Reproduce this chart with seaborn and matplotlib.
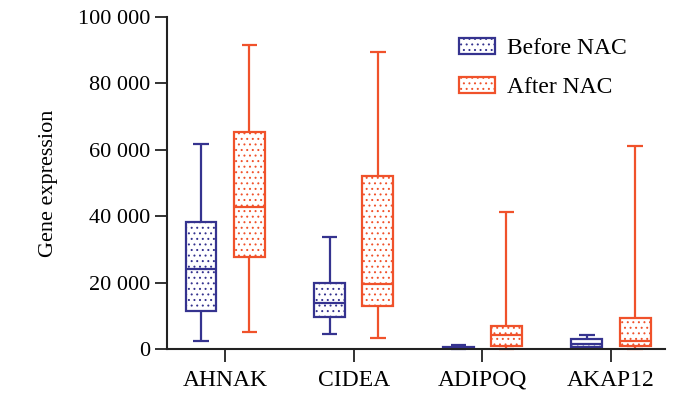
import pandas as pd
import numpy as np
import matplotlib
matplotlib.use("Agg")
import matplotlib.pyplot as plt
import matplotlib.patches as mpatches
from matplotlib.ticker import FuncFormatter
import seaborn as sns

genes = ["AHNAK", "CIDEA", "ADIPOQ", "AKAP12"]
groups = ["Before NAC", "After NAC"]

# five-number summaries: min, q1, median, q3, max
before_min = [2400, 4600, 0, 300]
before_q1 = [11400, 9500, 150, 600]
before_med = [24000, 13900, 400, 1500]
before_q3 = [38300, 20000, 700, 2900]
before_max = [61700, 33800, 1200, 4200]

after_min = [5100, 3400, 0, 0]
after_q1 = [27800, 13000, 1000, 1000]
after_med = [42800, 19600, 4200, 2500]
after_q3 = [65500, 52100, 7000, 9200]
after_max = [91700, 89400, 41200, 61200]

colors = ["#35338f", "#f0522b"]

## build long table, 5 points per box -> quartiles land exactly on them
rows = []
stats = {"Before NAC": [before_min, before_q1, before_med, before_q3, before_max],
         "After NAC": [after_min, after_q1, after_med, after_q3, after_max]}
for grp in groups:
    for i, g in enumerate(genes):
        for s in stats[grp]:
            rows.append({"gene": g, "group": grp, "value": s[i]})
df = pd.DataFrame(rows)

plt.rcParams['font.family'] = ['Liberation Serif', 'DejaVu Serif']
plt.rcParams['hatch.linewidth'] = 0.7
fig = plt.figure(figsize=(7, 3.97), dpi=100)
ax = fig.add_axes([0.239, 0.121, 0.711, 0.836])

sns.boxplot(data=df, x="gene", y="value", hue="group", order=genes, hue_order=groups,
            palette=colors, fill=True, saturation=1, whis=(0, 100), width=0.75, gap=0.36,
            linewidth=1.6, ax=ax, legend=False)

# white boxes with coloured outline + dotted hatch, lines take the box colour
boxes = []
for p in ax.patches:
    fc = p.get_facecolor()
    ext = p.get_path().transformed(p.get_patch_transform()).get_extents()
    boxes.append((ext.x0, ext.x1, fc))
    p.set_facecolor("white")
    p.set_edgecolor(fc)
    p.set_hatch("...")
    p.set_linewidth(1.6)
for l in ax.lines:
    xm = np.mean(l.get_xdata())
    for x0, x1, fc in boxes:
        if x0 - 1e-6 <= xm <= x1 + 1e-6:
            l.set_color(fc)
    l.set_clip_on(False)
    l.set_solid_capstyle("butt")

ax.set_ylim(0, 100000)
ax.set_xlim(-0.45, 3.42)
ax.set_yticks(np.arange(0, 100001, 20000))
ax.yaxis.set_major_formatter(FuncFormatter(lambda v, pos: f"{int(v):,}".replace(",", " ")))
ax.set_xlabel("")
ax.set_ylabel("Gene expression", fontsize=16, labelpad=14)
ax.tick_params(axis="both", length=9, width=1.3, labelsize=16, color="#222222")
ax.tick_params(axis="x", labelsize=17, pad=6)
for s in ["top", "right"]:
    ax.spines[s].set_visible(False)
for s in ["left", "bottom"]:
    ax.spines[s].set_linewidth(1.5)
    ax.spines[s].set_color("#222222")

handles = [mpatches.Patch(facecolor="white", edgecolor=c, hatch="...", linewidth=1.6, label=g)
           for c, g in zip(colors, groups)]
ax.legend(handles=handles, loc="upper right", bbox_to_anchor=(0.965, 1.0), frameon=False,
          fontsize=17, handlelength=1.5, handleheight=0.65, labelspacing=0.75, handletextpad=0.5)

plt.savefig("out.png", dpi=100)
